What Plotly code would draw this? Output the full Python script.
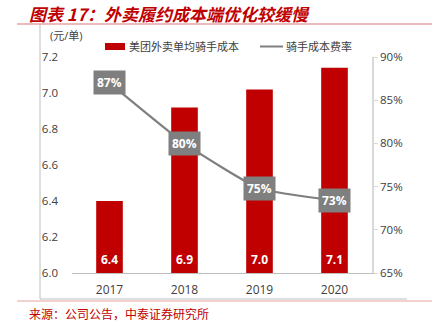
import plotly.graph_objects as go

# Data
years = ["2017", "2018", "2019", "2020"]
rider_cost = [6.40, 6.92, 7.02, 7.14]          # 元/单
rider_cost_rate = [0.870, 0.800, 0.748, 0.734]  # 骑手成本费率

title_text = "图表 17：外卖履约成本端优化较缓慢"
source_text = "来源：公司公告，中泰证券研究所"
unit_text = "(元/单)"
bar_name = "美团外卖单均骑手成本"
line_name = "骑手成本费率"

RED = "#c00000"
GRAY = "#7f7f7f"
TXT = "#404040"
FONT = "Open Sans, Noto Sans CJK SC, sans-serif"
CJK = "Noto Sans CJK SC, sans-serif"

Y_MIN, Y_MAX = 6.0, 7.2
W, H = 432, 332
L, R, T, B = 72, 60, 57, 59
PW, PH = W - L - R, H - T - B


def px(x):
    return (x - L) / PW


def py(y):
    return (H - B - y) / PH


fig = go.Figure()

fig.add_trace(go.Bar(
    x=years, y=rider_cost, name=bar_name,
    marker=dict(color=RED, line=dict(width=0)),
    width=0.355, showlegend=False,
))

fig.add_trace(go.Scatter(
    x=years, y=rider_cost_rate, name=line_name, yaxis="y2", showlegend=False,
    mode="lines", line=dict(color=GRAY, width=2.2, shape="spline", smoothing=0.5),
))

annotations = []
# bar values, written at the foot of each bar
for i, v in enumerate(rider_cost):
    annotations.append(dict(
        x=i, y=Y_MIN, xref="x", yref="y", yanchor="bottom", yshift=3,
        text=f"<b>{v:.1f}</b>", showarrow=False,
        font=dict(color="white", size=12, family=FONT),
    ))
# value boxes on the rate line
for i, v in enumerate(rider_cost_rate):
    annotations.append(dict(
        x=i, y=v, xref="x", yref="y2", text=f"<b>{v:.0%}</b>",
        showarrow=False, bgcolor=GRAY, borderpad=3,
        font=dict(color="white", size=12, family=FONT),
    ))

annotations += [
    dict(x=px(27), y=py(14), xref="paper", yref="paper", xanchor="left", yanchor="middle",
         text=f"<b><i>{title_text}</i></b>", showarrow=False,
         font=dict(color=RED, size=17, family=CJK)),
    dict(x=px(27), y=py(313), xref="paper", yref="paper", xanchor="left", yanchor="middle",
         text=source_text, showarrow=False,
         font=dict(color=RED, size=12, family=CJK)),
    dict(x=px(66), y=py(36), xref="paper", yref="paper", xanchor="center", yanchor="middle",
         text=unit_text, showarrow=False,
         font=dict(color=TXT, size=11, family=FONT)),
    # legend labels
    dict(x=px(127), y=py(46), xref="paper", yref="paper", xanchor="left", yanchor="middle",
         text=bar_name, showarrow=False, font=dict(color=TXT, size=11, family=CJK)),
    dict(x=px(284), y=py(46), xref="paper", yref="paper", xanchor="left", yanchor="middle",
         text=line_name, showarrow=False, font=dict(color=TXT, size=11, family=CJK)),
]

shapes = [
    # title underline
    dict(type="line", xref="paper", yref="paper", x0=px(17), x1=px(432), y0=py(24), y1=py(24),
         line=dict(color="#e6a3a3", width=1.5)),
    # chart frame (left and bottom)
    dict(type="line", xref="paper", yref="paper", x0=px(40), x1=px(40), y0=py(24), y1=py(299),
         line=dict(color="#bfbfbf", width=1)),
    dict(type="line", xref="paper", yref="paper", x0=px(40), x1=px(407), y0=py(299), y1=py(299),
         line=dict(color="#bfbfbf", width=1)),
    # footer rule
    dict(type="line", xref="paper", yref="paper", x0=px(17), x1=px(432), y0=py(301), y1=py(301),
         line=dict(color="#e6a3a3", width=1.2)),
    # legend keys
    dict(type="rect", xref="paper", yref="paper", x0=px(105), x1=px(125), y0=py(50), y1=py(43),
         fillcolor=RED, line=dict(width=0)),
    dict(type="line", xref="paper", yref="paper", x0=px(260), x1=px(283), y0=py(46.5), y1=py(46.5),
         line=dict(color=GRAY, width=2)),
]

fig.update_layout(
    width=W, height=H,
    margin=dict(l=L, r=R, t=T, b=B),
    paper_bgcolor="white", plot_bgcolor="white",
    font=dict(family=FONT, color=TXT, size=12),
    xaxis=dict(type="category", range=[-0.5, 3.5], showgrid=False, showline=True,
               linecolor="#bfbfbf", linewidth=1, ticks="", ticklabelstandoff=6,
               tickfont=dict(size=12, color=TXT)),
    yaxis=dict(range=[Y_MIN, Y_MAX], dtick=0.2, tickformat=".1f", showgrid=False,
               showline=False, ticks="", zeroline=False, ticklabelstandoff=13,
               tickfont=dict(size=11.5, color=TXT)),
    yaxis2=dict(range=[0.65, 0.90], dtick=0.05, tickformat=".0%", overlaying="y",
                side="right", showgrid=False, showline=True, linecolor="#d9d9d9",
                linewidth=1.5, ticks="outside", ticklen=4, tickcolor="#d9d9d9",
                zeroline=False, tickfont=dict(size=11.5, color=TXT)),
    annotations=annotations,
    shapes=shapes,
)

fig.write_html("out.html")
